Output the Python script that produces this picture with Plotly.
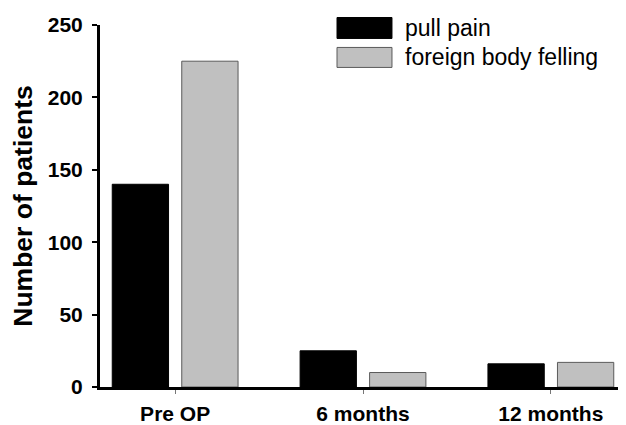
import plotly.graph_objects as go

categories = ["Pre OP", "6 months", "12 months"]
series_names = ["pull pain", "foreign body felling"]
pull_pain = [140, 25, 16]
foreign_body = [225, 10, 17]
y_ticks = [0, 50, 100, 150, 200, 250]

colors = ["#000000", "#c0c0c0"]
line_colors = ["#000000", "#5a5a5a"]
FONT = "Arial, Liberation Sans, Helvetica, sans-serif"

fig = go.Figure()
for name, vals, c, lc in zip(series_names, [pull_pain, foreign_body], colors, line_colors):
    fig.add_trace(go.Bar(
        x=list(range(len(categories))), y=vals, name=name,
        marker=dict(color=c, line=dict(color=lc, width=1)),
        showlegend=False,
    ))

# custom legend with large swatches (paper coordinates)
leg_rows = [(1.0207, 0.9628, 0.9917), (0.938, 0.8828, 0.9103)]
for (y1, y0, yt), name, c, lc in zip(leg_rows, series_names, colors, line_colors):
    fig.add_shape(type="rect", xref="paper", yref="paper",
                  x0=0.4506, x1=0.5551, y0=y0, y1=y1,
                  fillcolor=c, line=dict(color=lc, width=1))
    fig.add_annotation(xref="paper", yref="paper", x=0.576, y=yt,
                       text=name, showarrow=False, xanchor="left", yanchor="middle",
                       font=dict(family=FONT, size=23, color="#000000"))

fig.update_layout(
    width=626, height=425,
    margin=dict(l=92, r=8, t=17, b=46),
    paper_bgcolor="white", plot_bgcolor="white",
    barmode="group", bargap=0.26, bargroupgap=0.19,
    font=dict(family=FONT, color="#000000"),
)
fig.update_xaxes(
    range=[-0.4, 2.4], tickvals=list(range(len(categories))), ticktext=categories,
    showline=True, linecolor="#000000", linewidth=3,
    ticks="outside", ticklen=4, tickwidth=1, tickcolor="#777777",
    tickfont=dict(family=FONT, size=21, color="#000000", weight="bold"),
    showgrid=False, zeroline=False, ticklabelstandoff=2, automargin=False,
)
fig.update_yaxes(
    range=[0, 250], tickvals=y_ticks,
    showline=True, linecolor="#000000", linewidth=3,
    ticks="outside", ticklen=5, tickwidth=2, tickcolor="#000000",
    tickfont=dict(family=FONT, size=21, color="#000000", weight="bold"),
    showgrid=False, zeroline=False, ticklabelstandoff=5, automargin=False,
    title=dict(text="Number of patients", font=dict(family=FONT, size=26.5, color="#000000", weight="bold"), standoff=9),
)

fig.write_html("out.html")
